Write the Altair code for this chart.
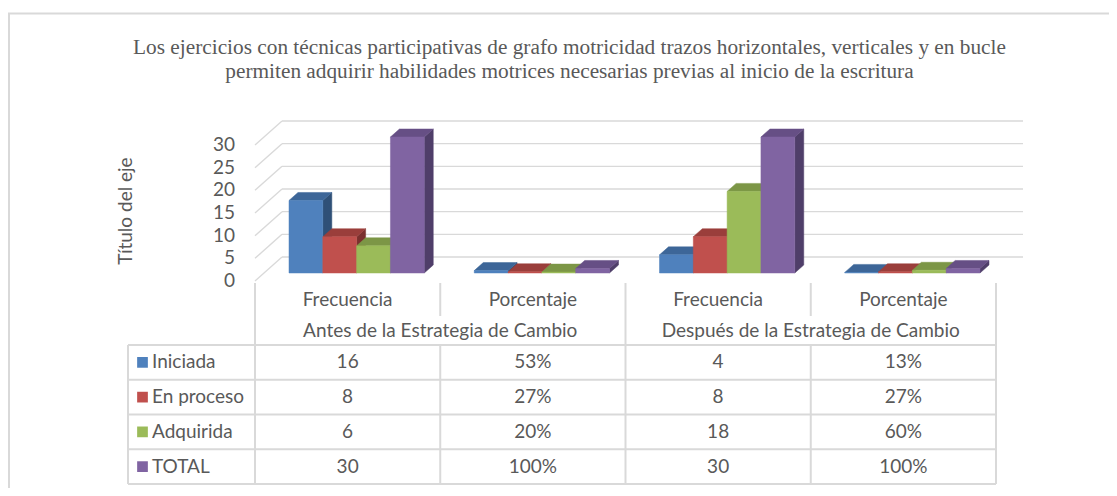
import altair as alt
import pandas as pd

# ---------------- data ----------------
series = ["Iniciada", "En proceso", "Adquirida", "TOTAL"]
categories = ["Frecuencia", "Porcentaje", "Frecuencia", "Porcentaje"]
group_labels = ["Antes de la Estrategia de Cambio", "Después de la Estrategia de Cambio"]
antes_frecuencia = [16, 8, 6, 30]
antes_porcentaje = [0.53, 0.27, 0.20, 1.00]
despues_frecuencia = [4, 8, 18, 30]
despues_porcentaje = [0.13, 0.27, 0.60, 1.00]
y_ticks = [0, 5, 10, 15, 20, 25, 30]
title_lines = [
    "Los ejercicios con técnicas participativas de grafo motricidad trazos horizontales, verticales y en bucle",
    "permiten adquirir habilidades motrices necesarias previas al inicio de la escritura",
]
axis_title = "Título del eje"

# ---------------- style ----------------
front_colors = ["#4F81BD", "#C0504D", "#9BBB59", "#8064A2"]
top_colors = ["#3D6698", "#9A3E3B", "#7C9646", "#664F85"]
side_colors = ["#2F5077", "#7A302E", "#617535", "#4F3E69"]
GRID = "#D9D9D9"
TXT = "#595959"
FONT = "Lato"
SERIF = "Liberation Serif"
FS = 19

W, H = 1101, 480
X_LEFT, X_RIGHT = 247, 988
Y_ZERO, Y_TOP = 273, 137
COL_PX = (X_RIGHT - X_LEFT) / 4
VAL_PX = (Y_ZERO - Y_TOP) / 30
DX = 27 / COL_PX
DY = 24 / VAL_PX
GAP = 25 / COL_PX
BW = (1 - 2 * GAP) / 4
LEG_X = (120 - X_LEFT) / COL_PX
LEG_SQ = (134.5 - X_LEFT) / COL_PX
LEG_TXT = (144 - X_LEFT) / COL_PX
TICK_X = (227 - X_LEFT) / COL_PX

columns = [antes_frecuencia, antes_porcentaje, despues_frecuencia, despues_porcentaje]
is_pct = [False, True, False, True]

# ---------------- geometry tables ----------------
fronts, tops, sides = [], [], []
for g, vals in enumerate(columns):
    for s, v in enumerate(vals):
        bid = f"{g}-{s}"
        x0 = g + GAP + s * BW + DX / 3
        x1 = x0 + BW
        fronts.append(dict(id=bid, x=x0, x2=x1, y=DY / 3, y2=v + DY / 3, c=front_colors[s]))
        tops.append(dict(id=bid, y=v + DY / 3, x=x0, x2=x1, c=top_colors[s]))
        tops.append(dict(id=bid, y=v + 2 * DY / 3, x=x0 + DX / 3, x2=x1 + DX / 3, c=top_colors[s]))
        sides.append(dict(id=bid, x=x1, y=v + DY / 3, y2=DY / 3, c=side_colors[s]))
        sides.append(dict(id=bid, x=x1 + DX / 3, y=v + 2 * DY / 3, y2=2 * DY / 3, c=side_colors[s]))
fronts, tops, sides = pd.DataFrame(fronts), pd.DataFrame(tops), pd.DataFrame(sides)

grid_df = pd.DataFrame([dict(x=DX, x2=4 + DX, y=v + DY, y2=v + DY) for v in y_ticks])
wall_df = pd.DataFrame([dict(x=0, x2=DX, y=v, y2=v + DY) for v in y_ticks])
tick_df = pd.DataFrame([dict(x=TICK_X, y=v, t=str(v)) for v in y_ticks])

xs = alt.Scale(domain=[0, 4], range=[X_LEFT, X_RIGHT], nice=False, zero=False)
ys = alt.Scale(domain=[0, 30], range=[Y_ZERO, Y_TOP], nice=False, zero=False)
rs = alt.Scale(domain=[0, 1, 2, 6], range=[275, 308, 337, 476], nice=False, zero=False)

def X(f="x"):
    return alt.X(f"{f}:Q", scale=xs, axis=None, stack=None)

def Y(f="y"):
    return alt.Y(f"{f}:Q", scale=ys, axis=None, stack=None)

def R(f="y"):
    return alt.Y(f"{f}:Q", scale=rs, axis=None, stack=None)

grid = alt.Chart(grid_df).mark_rule(color=GRID, strokeWidth=1.4).encode(
    x=X(), x2="x2:Q", y=Y(), y2="y2:Q")
wall = alt.Chart(wall_df).mark_rule(color=GRID, strokeWidth=1.4).encode(
    x=X(), x2="x2:Q", y=Y(), y2="y2:Q")
tick_labels = alt.Chart(tick_df).mark_text(
    font=FONT, fontSize=FS, color=TXT, align="right", baseline="middle").encode(
    x=X(), y=Y(), text="t:N")

side_layer = alt.Chart(sides).mark_area(strokeWidth=0.5).encode(
    x=X(), y=Y(), y2="y2:Q", detail="id:N",
    color=alt.Color("c:N", scale=None), stroke=alt.Stroke("c:N", scale=None))
top_layer = alt.Chart(tops).mark_area(orient="horizontal", strokeWidth=0.5).encode(
    y=Y(), x=X(), x2="x2:Q", detail="id:N",
    color=alt.Color("c:N", scale=None), stroke=alt.Stroke("c:N", scale=None))
front_layer = alt.Chart(fronts).mark_rect(strokeWidth=0.5).encode(
    x=X(), x2="x2:Q", y=Y(), y2="y2:Q",
    color=alt.Color("c:N", scale=None), stroke=alt.Stroke("c:N", scale=None))

plot3d = alt.layer(grid, wall, tick_labels, side_layer, top_layer, front_layer)

# ---------------- data table ----------------
lines = []
for r in [2, 3, 4, 5, 6]:
    lines.append(dict(x=LEG_X, x2=4, y=r, y2=r))
for xv in [0, 2, 4]:
    lines.append(dict(x=xv, x2=xv, y=0, y2=6))
for xv in [1, 3]:
    lines.append(dict(x=xv, x2=xv, y=0, y2=1))
    lines.append(dict(x=xv, x2=xv, y=2, y2=6))
lines.append(dict(x=LEG_X, x2=LEG_X, y=2, y2=6))
lines_df = pd.DataFrame(lines)

center_txt = []
for g, name in enumerate(categories):
    center_txt.append(dict(x=g + 0.5, y=0.5, t=name))
for i, name in enumerate(group_labels):
    center_txt.append(dict(x=2 * i + 1, y=1.5, t=name))
for g, vals in enumerate(columns):
    for s, v in enumerate(vals):
        label = f"{round(v * 100)}%" if is_pct[g] else f"{v}"
        center_txt.append(dict(x=g + 0.5, y=s + 2.5, t=label))
center_df = pd.DataFrame(center_txt)

legend_df = pd.DataFrame([dict(x=LEG_TXT, xs=LEG_SQ, y=s + 2.5, t=name, c=front_colors[s])
                          for s, name in enumerate(series)])

table_lines = alt.Chart(lines_df).mark_rule(color=GRID, strokeWidth=2).encode(
    x=X(), x2="x2:Q", y=R(), y2="y2:Q")
table_text = alt.Chart(center_df).mark_text(
    font=FONT, fontSize=FS, color=TXT, align="center", baseline="middle").encode(
    x=X(), y=R(), text="t:N")
legend_sq = alt.Chart(legend_df).mark_square(size=115, opacity=1).encode(
    x=X("xs"), y=R(), color=alt.Color("c:N", scale=None))
legend_txt = alt.Chart(legend_df).mark_text(
    font=FONT, fontSize=FS, color=TXT, align="left", baseline="middle").encode(
    x=X(), y=R(), text="t:N")

one = pd.DataFrame({"a": [0]})
border = alt.Chart(one).mark_rect(fillOpacity=0, stroke=GRID, strokeWidth=2).encode(
    x=alt.value(1), x2=alt.value(1400), y=alt.value(5.5), y2=alt.value(800))
t1 = alt.Chart(one).mark_text(font=SERIF, fontSize=21.3, color=TXT, align="center",
                              baseline="middle", text=title_lines[0]).encode(
    x=alt.value(561.5), y=alt.value(40))
t2 = alt.Chart(one).mark_text(font=SERIF, fontSize=21.3, color=TXT, align="center",
                              baseline="middle", text=title_lines[1]).encode(
    x=alt.value(561.5), y=alt.value(64))
ytitle = alt.Chart(one).mark_text(font=FONT, fontSize=FS, color=TXT, align="center",
                                  baseline="middle", angle=270, text=axis_title).encode(
    x=alt.value(118), y=alt.value(203))

table = alt.layer(border, t1, t2, ytitle, table_lines, table_text, legend_sq, legend_txt)

chart = alt.layer(plot3d, table).resolve_scale(y="independent").properties(
    width=W, height=H, autosize=alt.AutoSizeParams(type="none"), padding=0
).configure_view(stroke=None)

chart.save("out.html", embed_options={"renderer": "svg", "actions": False})
